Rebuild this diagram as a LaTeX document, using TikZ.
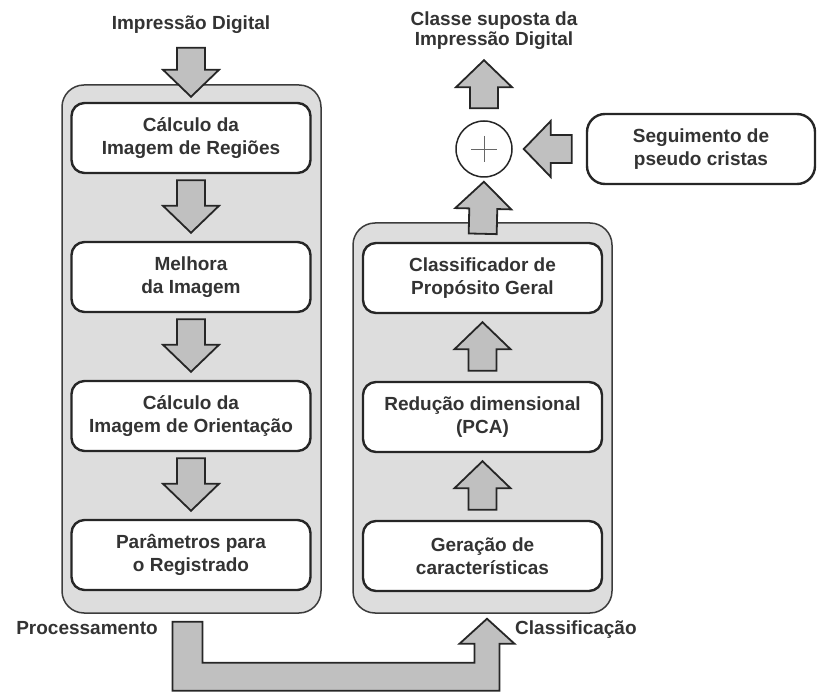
\documentclass[tikz,border=0pt]{standalone}
\usepackage{fontspec}
\setmainfont{Liberation Sans}
\usetikzlibrary{calc}

\definecolor{panelgray}{HTML}{DDDDDD}
\definecolor{arrowgray}{HTML}{C0C0C0}
\definecolor{inkgray}{HTML}{262626}
\definecolor{textgray}{HTML}{333333}

% block arrow from #1 to #2, leaving gaps #3 and #4
\newcommand{\fatarrow}[4]{%
  \path ($(#1)!#3!(#2)$) coordinate (fa) ($(#2)!#4!(#1)$) coordinate (fb);
  \path ($(fb)!27pt!(fa)$) coordinate (fh);
  \draw[fat] ($(fa)!14pt!90:(fb)$) -- ($(fh)!14pt!90:(fb)$) -- ($(fh)!28pt!90:(fb)$) -- (fb)
    -- ($(fh)!28pt!-90:(fb)$) -- ($(fh)!14pt!-90:(fb)$) -- ($(fa)!14pt!-90:(fb)$) -- cycle;}

\begin{document}
\begin{tikzpicture}[x=1pt, y=-1pt,
  every node/.style={font=\fontsize{19}{22.5}\selectfont\bfseries, text=textgray},
  panel/.style={draw=inkgray!90, fill=panelgray, line width=1.5pt, rounded corners=22pt},
  box/.style={draw=inkgray, fill=white, line width=2.4pt, rounded corners=13pt, align=center,
    minimum width=239pt, minimum height=70pt, inner sep=0pt},
  lbl/.style={inner sep=0pt, align=center},
  fat/.style={draw=inkgray, fill=arrowgray, line width=1.8pt, line join=miter}]
\useasboundingbox (0,0) rectangle (817,692);

% the two stages
\node[panel, minimum width=259pt, minimum height=528pt] (proc) at (191.5,349) {};
\node[panel, minimum width=259pt, minimum height=390pt] (clas) at (482.5,418) {};

\node[box] (regioes) at (191,138) {Cálculo da\\Imagem de Regiões};
\node[box] (melhora) at (191,277) {Melhora\\da Imagem};
\node[box] (orient) at (191,416) {Cálculo da\\Imagem de Orientação};
\node[box] (registro) at (191,555) {Parâmetros para\\o Registrado};

\node[box] (geral) at (482.5,278) {Classificador de\\Propósito Geral};
\node[box] (pca) at (482.5,417) {Redução dimensional\\(PCA)};
\node[box] (geracao) at (482.5,556) {Geração de\\características};

\node[box, minimum width=228pt, rounded corners=18pt] (pseudo) at (701,149) {Seguimento de\\pseudo cristas};
\node[draw=inkgray, fill=white, circle, line width=1.5pt, minimum size=56pt] (soma) at (484,149) {};
\draw[inkgray!70, line width=0.6pt] ($(soma)+(-13,0)$) -- ($(soma)+(13,0)$) ($(soma)+(0,-13)$) -- ($(soma)+(0,13)$);

\node[lbl, anchor=north] (entrada) at (191,15.5) {Impressão Digital};
\node[lbl, anchor=north, font=\fontsize{19}{20}\selectfont\bfseries] (saida) at (494,12) {Classe suposta da\\Impressão Digital};
\node[lbl, anchor=north east] (lproc) at (158,621.5) {Processamento};
\node[lbl, anchor=north west] (lclas) at (515,621) {Classificação};

% arrows
\fatarrow{entrada.south}{regioes.north}{14pt}{5pt}
\fatarrow{regioes.south}{melhora.north}{6pt}{8pt}
\fatarrow{melhora.south}{orient.north}{6pt}{8pt}
\fatarrow{orient.south}{registro.north}{6pt}{8pt}
\fatarrow{geracao.north}{pca.south}{10pt}{8pt}
\fatarrow{pca.north}{geral.south}{10pt}{8pt}
\fatarrow{geral.north}{soma.south}{8pt}{4pt}
\fatarrow{soma.north}{soma.north |- saida.south}{12pt}{10pt}
\fatarrow{pseudo.west}{soma.east}{14pt}{11pt}

% from processing to classification
\coordinate (pout) at ($(proc.south)+(-4,8)$);
\coordinate (cin) at ($(clas.south)+(4.5,5)$);
\draw[fat] ($(pout)+(-15,0)$) -- ($(pout)+(15,0)$) |- ($(cin)+(-12.5,44)$) -- ($(cin)+(-12.5,25)$)
  -- ($(cin)+(-27.5,25)$) -- (cin) -- ($(cin)+(27.5,25)$) -- ($(cin)+(12.5,25)$) |- ($(pout)+(-15,69)$) -- cycle;
\end{tikzpicture}
\end{document}
